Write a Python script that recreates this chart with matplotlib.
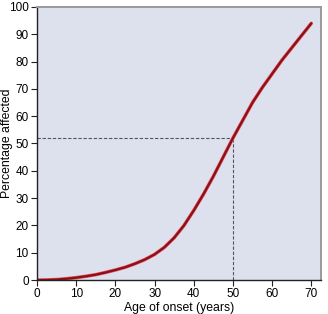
import matplotlib
matplotlib.use("Agg")
import matplotlib.pyplot as plt

age = [0, 2.5, 5, 7.5, 10, 12.5, 15, 17.5, 20, 22.5, 25, 27.5, 30, 32.5, 35,
       37.5, 40, 42.5, 45, 47.5, 50, 52.5, 55, 57.5, 60, 62.5, 65, 67.5, 70]
pct = [0, 0.05, 0.2, 0.5, 0.9, 1.4, 2.0, 2.8, 3.7, 4.7, 6.0, 7.5, 9.4, 12.0, 15.5,
       20.0, 25.5, 31.5, 38.0, 45.0, 52.0, 58.5, 65.0, 70.5, 75.5, 80.5, 85.0, 89.5, 94.0]
ref_age = 50
ref_pct = 52
xticks = [0, 10, 20, 30, 40, 50, 60, 70]
yticks = [0, 10, 20, 30, 40, 50, 60, 70, 80, 90, 100]

plt.rcParams['font.family'] = ['Liberation Sans', 'DejaVu Sans']
fig = plt.figure(figsize=(3.28, 3.14), dpi=100)
ax = fig.add_axes([0.113, 0.108, 0.866, 0.87])
ax.set_facecolor('#dde1ee')

ax.plot([0, ref_age], [ref_pct, ref_pct], ls=(0, (3, 1.6)), color='#555555', lw=0.8)
ax.plot([ref_age, ref_age], [0, ref_pct], ls=(0, (3, 1.6)), color='#555555', lw=0.8)
ax.plot(age, pct, color='#ee6670', lw=2.6, solid_capstyle='round')
ax.plot(age, pct, color='#8b1018', lw=1.7, solid_capstyle='round')

ax.set_xlim(0, 72.5)
ax.set_ylim(0, 100)
ax.set_xticks(xticks)
ax.set_yticks(yticks)
ax.tick_params(labelsize=8.5, length=4, width=0.8, color='#222222', pad=2)
ax.set_xlabel('Age of onset (years)', fontsize=8.8, labelpad=1)
ax.set_ylabel('Percentage affected', fontsize=8.8)
ax.yaxis.set_label_coords(-0.083, 0.5)
for s in ['left', 'bottom']:
    ax.spines[s].set_color('#222222')
    ax.spines[s].set_linewidth(1.0)
for s in ['top', 'right']:
    ax.spines[s].set_color('#9a9a9a')
    ax.spines[s].set_linewidth(1.4)

fig.savefig('out.png', dpi=100)
